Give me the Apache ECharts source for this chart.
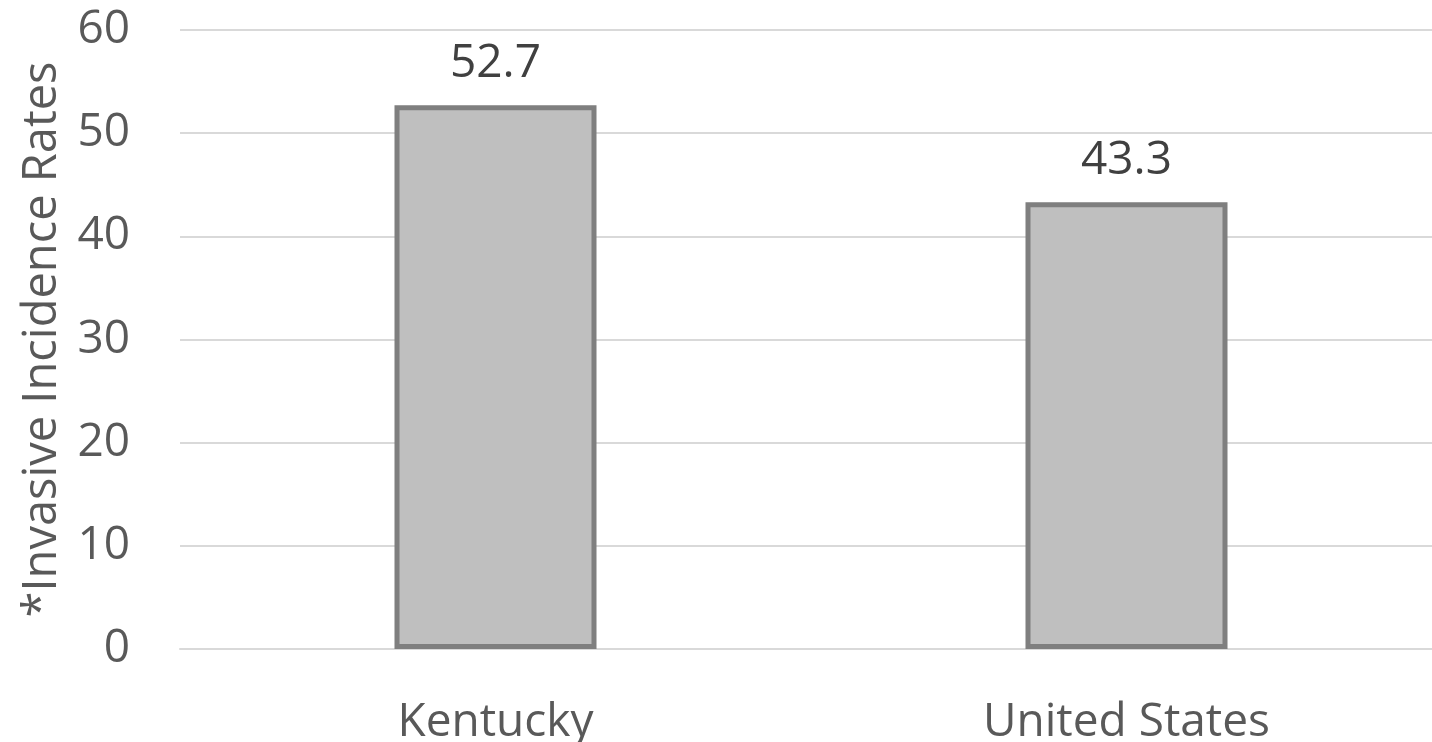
<!DOCTYPE html>
<html lang="en">
<head>
    <meta charset="UTF-8">
    <title>Invasive Incidence Rates</title>
    <script src="https://cdn.jsdelivr.net/npm/echarts@6/dist/echarts.min.js"></script>
    <style>
        html, body { margin: 0; padding: 0; background: #fff; }
        #chart1 { width: 1432px; height: 742px; }
    </style>
</head>
<body>
<div id="chart1"></div>
<script>
    var categories = ['Kentucky', 'United States'];
    var rates = [52.7, 43.3];
    var yTicks = [0, 10, 20, 30, 40, 50, 60];

    var font = 'Open Sans';
    var myChart = echarts.init(document.getElementById('chart1'));
    var option1 = {
        animation: false,
        grid: {
            left: 180,
            right: -10,
            top: 30,
            bottom: 93,
            containLabel: false,
            outerBoundsMode: 'none'
        },
        xAxis: {
            type: 'category',
            data: categories,
            axisTick: { show: false },
            axisLine: { lineStyle: { color: '#d9d9d9', width: 2 } },
            axisLabel: {
                color: '#595959',
                fontFamily: font,
                fontSize: 46,
                margin: 51
            }
        },
        yAxis: {
            type: 'value',
            min: yTicks[0],
            max: yTicks[yTicks.length - 1],
            interval: 10,
            name: '*Invasive Incidence Rates',
            nameLocation: 'middle',
            nameGap: 114,
            nameTextStyle: {
                color: '#595959',
                fontFamily: font,
                fontSize: 47
            },
            axisLine: { show: false },
            axisTick: { show: false },
            axisLabel: {
                color: '#595959',
                fontFamily: font,
                fontSize: 46,
                margin: 50
            },
            splitLine: { lineStyle: { color: '#d9d9d9', width: 2 } }
        },
        series: [
            {
                type: 'bar',
                data: rates,
                barWidth: 202,
                itemStyle: {
                    color: '#bfbfbf',
                    borderColor: '#7f7f7f',
                    borderWidth: 5
                },
                label: {
                    show: true,
                    position: 'top',
                    distance: 18,
                    color: '#404040',
                    fontFamily: font,
                    fontSize: 46
                }
            }
        ]
    };
    myChart.setOption(option1);
</script>
</body>
</html>
